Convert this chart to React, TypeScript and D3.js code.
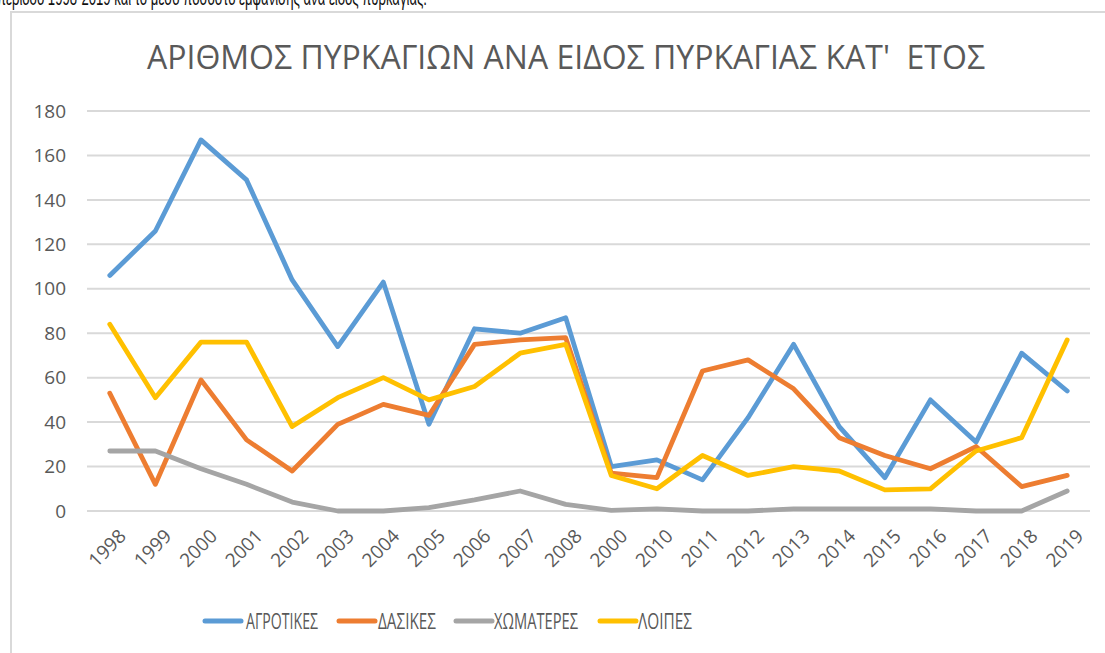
import React from "react";
import * as d3 from "d3";

const years = ["1998","1999","2000","2001","2002","2003","2004","2005","2006","2007","2008","2000","2010","2011","2012","2013","2014","2015","2016","2017","2018","2019"];
const agrotikes = [106,126,167,149,104,74,103,39,82,80,87,20,23,14,42,75,38,15,50,31,71,54];
const dasikes = [53,12,59,32,18,39,48,43,75,77,78,17,15,63,68,55,33,25,19,29,11,16];
const xomateres = [27,27,19,12,4,0,0,1.5,5,9,3,0.3,1,0,0,1,1,1,1,0,0,9];
const loipes = [84,51,76,76,38,51,60,50,56,71,75,16,10,25,16,20,18,9.5,10,27,33,77];
const seriesNames = ["ΑΓΡΟΤΙΚΕΣ","ΔΑΣΙΚΕΣ","ΧΩΜΑΤΕΡΕΣ","ΛΟΙΠΕΣ"];
const seriesColors = ["#5B9BD5","#ED7D31","#A5A5A5","#FFC000"];
const yTicks = [0,20,40,60,80,100,120,140,160,180];
const title = "ΑΡΙΘΜΟΣ ΠΥΡΚΑΓΙΩΝ ΑΝΑ ΕΙΔΟΣ ΠΥΡΚΑΓΙΑΣ ΚΑΤ'  ΕΤΟΣ";
const topText = "περίοδο 1998-2019 και το μέσο ποσοστό εμφάνισης ανά είδος πυρκαγιάς.";

export default function App() {
  const W = 1105, H = 653;
  const x = d3.scaleBand<number>().domain(years.map((_, i) => i)).range([87, 1090]).padding(0);
  const cx = (i: number) => (x(i) as number) + x.bandwidth() / 2;
  const y = d3.scaleLinear().domain([0, 180]).range([511, 111]);
  const data = [agrotikes, dasikes, xomateres, loipes];
  const line = d3.line<number>().x((_, i) => cx(i)).y(d => y(d));
  const font = "'Open Sans', 'Noto Sans', sans-serif";
  const legendItems = [
    { lx: 205, tx: 246, tl: 72 },
    { lx: 339, tx: 378, tl: 58 },
    { lx: 456, tx: 494, tl: 84 },
    { lx: 600, tx: 638, tl: 54 },
  ];
  return (
    <svg width={W} height={H} style={{ position: "absolute", left: 0, top: 0, background: "#fff" }} fontFamily={font}>
      <rect x={0} y={0} width={W} height={H} fill="#fff" />
      <text x={-3} y={5} fontSize={22} fill="#111" textLength={430} lengthAdjust="spacingAndGlyphs" fontFamily="'Liberation Sans', sans-serif">{topText}</text>
      <rect x={11} y={12} width={W + 20} height={H + 20} fill="none" stroke="#d9d9d9" strokeWidth={2} />
      <text x={147} y={69} fontSize={32} fill="#595959" textLength={838} lengthAdjust="spacingAndGlyphs" style={{ whiteSpace: "pre" }} xmlSpace="preserve">{title}</text>
      {yTicks.map(t => (
        <g key={t}>
          <line x1={87} x2={1090} y1={y(t)} y2={y(t)} stroke="#d9d9d9" strokeWidth={2} />
          <text x={66} y={y(t)} dy="0.35em" textAnchor="end" fontSize={19} fill="#595959">{t}</text>
        </g>
      ))}
      {years.map((lab, i) => (
        <text key={i} transform={`translate(${cx(i) + 8},${528}) rotate(-45)`} textAnchor="end" dy="0.7em" fontSize={19} fill="#595959">{lab}</text>
      ))}
      {data.map((d, k) => (
        <path key={k} d={line(d) || ""} fill="none" stroke={seriesColors[k]} strokeWidth={4.8} strokeLinejoin="round" strokeLinecap="round" />
      ))}
      {legendItems.map((it, k) => (
        <g key={k}>
          <line x1={it.lx} x2={it.lx + 36} y1={621} y2={621} stroke={seriesColors[k]} strokeWidth={5} strokeLinecap="round" />
          <text x={it.tx} y={621} dy="0.36em" fontSize={21} fill="#595959" textLength={it.tl} lengthAdjust="spacingAndGlyphs">{seriesNames[k]}</text>
        </g>
      ))}
    </svg>
  );
}
